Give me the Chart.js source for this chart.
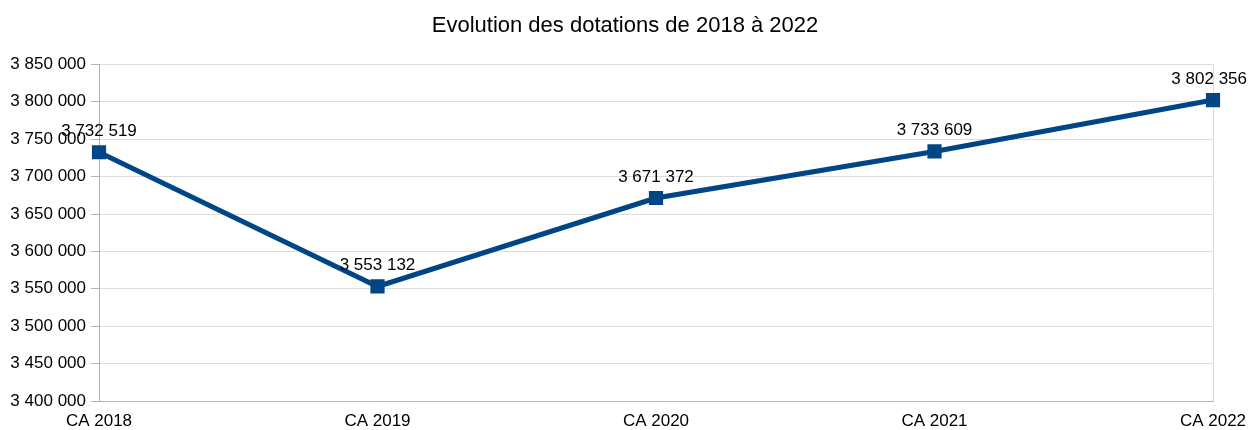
<!DOCTYPE html>
<html>
<head>
<meta charset="utf-8">
<script src="https://cdn.jsdelivr.net/npm/chart.js@4"></script>
<style>
  body { margin: 0; background: #fff; }
  #wrap { width: 1250px; height: 430px; }
</style>
</head>
<body>
<div id="wrap"><canvas id="myChart" width="1250" height="430"></canvas></div>
<script>
// data
const categories = ['CA 2018', 'CA 2019', 'CA 2020', 'CA 2021', 'CA 2022'];
const dotations = [3732519, 3553132, 3671372, 3733609, 3802356];
const yMin = 3400000;
const yMax = 3850000;
const yStep = 50000;

const FONT = '"Liberation Sans", Arial, sans-serif';

function fmt(v) {
  return String(v).replace(/\B(?=(\d{3})+(?!\d))/g, ' ');
}

// value labels above each point
const valueLabels = {
  id: 'valueLabels',
  afterDatasetsDraw(chart) {
    const ctx = chart.ctx;
    const meta = chart.getDatasetMeta(0);
    ctx.save();
    ctx.font = '17px ' + FONT;
    ctx.fillStyle = '#000';
    ctx.textAlign = 'center';
    ctx.textBaseline = 'alphabetic';
    meta.data.forEach((pt, i) => {
      const txt = fmt(dotations[i]);
      const w = ctx.measureText(txt).width;
      let x = pt.x;
      if (x + w / 2 > chart.width - 3) x = chart.width - 3 - w / 2;
      ctx.fillText(txt, x, pt.y - 16);
    });
    ctx.restore();
  }
};

// right edge line of the plot area
const rightEdge = {
  id: 'rightEdge',
  beforeDatasetsDraw(chart) {
    const a = chart.chartArea;
    const ctx = chart.ctx;
    ctx.save();
    ctx.strokeStyle = '#d9d9d9';
    ctx.lineWidth = 1;
    ctx.beginPath();
    ctx.moveTo(Math.round(a.right) + 0.5, a.top);
    ctx.lineTo(Math.round(a.right) + 0.5, a.bottom);
    ctx.stroke();
    ctx.restore();
  }
};

const ctx = document.getElementById('myChart').getContext('2d');
const myChart = new Chart(ctx, {
  type: 'line',
  data: {
    labels: categories,
    datasets: [{
      label: 'Dotations',
      data: dotations,
      borderColor: '#004586',
      backgroundColor: '#004586',
      borderWidth: 5,
      pointStyle: 'rect',
      pointRadius: 6.5,
      pointHoverRadius: 6.5,
      tension: 0
    }]
  },
  options: {
    responsive: false,
    animation: false,
    layout: { padding: 0 },
    plugins: {
      legend: { display: false },
      tooltip: { enabled: false },
      title: {
        display: true,
        text: 'Evolution des dotations de 2018 à 2022',
        color: '#000',
        font: { family: FONT, size: 22, weight: 'normal' },
        padding: { top: 13, bottom: 25 }
      }
    },
    scales: {
      x: {
        offset: false,
        afterFit: scale => { scale.height = 29; scale.paddingRight = 37; },
        grid: { display: false, drawTicks: true, tickLength: 4 },
        border: { display: true, color: '#b3b3b3' },
        ticks: {
          color: '#000',
          padding: 8,
          maxRotation: 0,
          font: { family: FONT, size: 17, lineHeight: 1 }
        }
      },
      y: {
        min: yMin,
        max: yMax,
        afterFit: scale => { scale.width = 99; },
        grid: { color: '#dddddd', tickLength: 8, tickColor: '#b3b3b3' },
        border: { display: true, color: '#b3b3b3' },
        ticks: {
          stepSize: yStep,
          color: '#000',
          padding: 5,
          font: { family: FONT, size: 17 },
          callback: v => fmt(v)
        }
      }
    }
  },
  plugins: [valueLabels, rightEdge]
});
</script>
</body>
</html>
